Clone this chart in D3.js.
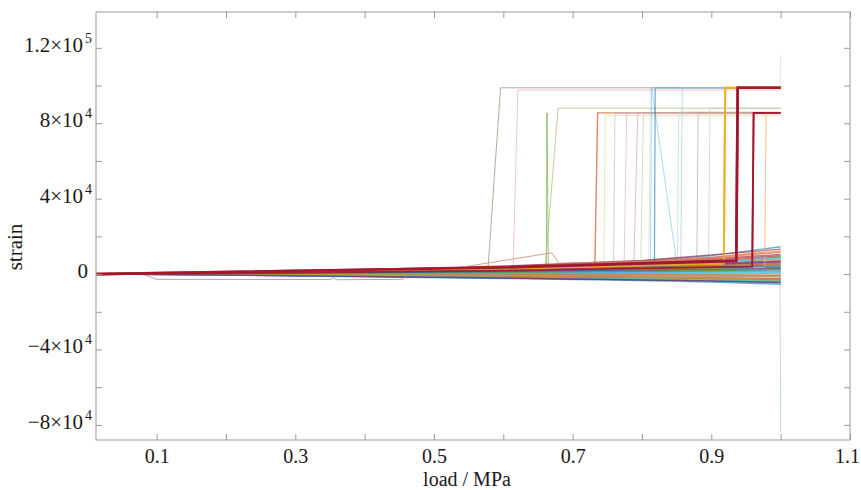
<!DOCTYPE html>
<html>
<head>
<meta charset="utf-8">
<script src="https://cdn.jsdelivr.net/npm/d3@7"></script>
<style>
    body { margin: 0; background: #fff; }
    svg { font-family: "Liberation Serif", "Times New Roman", serif; }
</style>
</head>
<body>
<div id="root"></div>
<script>
"use strict";

// load steps shared by the ordinary (non jumping) runs
var fanLoads = [0.0125, 0.2, 0.4, 0.6, 0.8, 0.9, 1.0];

// strain of each ordinary run at fanLoads
var fanStrains = [
    [0, 200, 700, 1500, 2600, 3300, 4200],
    [0, -150, -500, -900, -1400, -1800, -2300],
    [0, 400, 1100, 2200, 3800, 4900, 6200],
    [0, 80, 300, 600, 1000, 1300, 1600],
    [0, -300, -900, -1600, -2500, -3000, -3600],
    [0, 550, 1500, 3000, 5200, 6800, 8600],
    [0, 250, 600, 1100, 1900, 2500, 3000],
    [0, -60, -200, -350, -600, -700, -900],
    [0, 700, 1900, 3700, 6400, 8600, 11500],
    [0, 150, 450, 900, 1600, 2100, 2700],
    [0, -500, -1300, -2100, -3100, -3700, -4400],
    [0, 320, 900, 1900, 3200, 4200, 5400],
    [0, 30, 120, 250, 450, 600, 750],
    [0, -220, -650, -1200, -1900, -2400, -2900],
    [0, 850, 2100, 4100, 7000, 9800, 14500],
    [0, 480, 1300, 2600, 4500, 5800, 7300],
    [0, -100, -350, -700, -1100, -1400, -1700],
    [0, 180, 520, 1000, 1800, 2300, 2900],
    [0, 380, 1000, 2000, 3500, 4600, 5800],
    [0, -380, -1100, -1900, -2800, -3400, -4100],
    [0, 620, 1700, 3300, 5700, 7500, 9800],
    [0, 120, 380, 800, 1300, 1700, 2200],
    [0, -30, -100, -150, -300, -350, -400],
    [0, 260, 800, 1600, 2900, 3800, 4800],
    [0, 440, 1200, 2400, 4200, 5400, 6900],
    [0, -260, -800, -1400, -2200, -2700, -3300],
    [0, 90, 250, 500, 800, 1100, 1300],
    [0, 750, 1900, 3600, 6000, 8000, 10500],
    [0, -600, -1500, -2400, -3500, -4300, -5400],
    [0, 300, 850, 1700, 3000, 3900, 5000],
    [0, 200, 600, 1300, 2300, 2900, 3700],
    [0, -180, -550, -1000, -1600, -2000, -2500],
    [0, 520, 1400, 2800, 4900, 6300, 8000],
    [0, 60, 200, 400, 700, 900, 1100],
    [0, 950, 2300, 4300, 7200, 10200, 13200],
    [0, -420, -1200, -2000, -3000, -3600, -4700],
    [0, 340, 950, 2100, 3400, 4400, 5600],
    [0, -80, -280, -500, -850, -1100, -1300],
    [0, 470, 1250, 2300, 4000, 5200, 6600],
    [0, 140, 420, 850, 1500, 2000, 2500],
    [0, -340, -1000, -1800, -2600, -3200, -3900],
    [0, 600, 1600, 3200, 5500, 7100, 9200],
    [0, 230, 680, 1300, 2200, 2800, 3500],
    [0, 800, 2000, 3900, 6700, 9000, 12200],
    [0, -200, -600, -1100, -1750, -2200, -2700],
    [0, 420, 1150, 2300, 3900, 5000, 6400],
    [0, 10, 50, 100, 200, 250, 300],
    [0, 560, 1550, 2900, 5000, 6500, 8300],
    [0, -450, -1250, -2050, -3050, -3650, -4300],
    [0, 280, 780, 1550, 2750, 3600, 4500]
];

// runs with their own load steps: [load, strain]
var oddRuns = [
    [[0.0125, 0], [0.08, 0], [0.1, -2800], [0.35, -2900], [0.355, -2100], [0.36, -3000],
     [0.455, -2800], [0.46, -800], [0.6, -500], [0.8, -900], [1.0, -1200]],
    [[0.0125, 0], [0.3, 900], [0.52, 2500], [0.67, 11300], [0.68, 5800], [0.8, 6800], [1.0, 9000]]
];

// runs that jump to a plateau
var jumpRuns = [
    [[0.0125, 0], [0.3, 600], [0.578, 3800], [0.596, 98800], [1.0, 98800]],
    [[0.0125, 0], [0.4, 1200], [0.614, 2600], [0.621, 97600], [1.0, 97600]],
    [[0.0125, 0], [0.4, 800], [0.662, 1500], [0.663, 85500], [0.665, 1800], [1.0, 3500]],
    [[0.0125, 0], [0.4, 900], [0.660, 2200], [0.679, 88000], [1.0, 88000]],
    [[0.0125, 0], [0.5, 1500], [0.732, 3000], [0.736, 85500], [1.0, 85500]],
    [[0.0125, 0], [0.5, 1000], [0.745, 2500], [0.747, 84000], [1.0, 84000]],
    [[0.0125, 0], [0.5, 1300], [0.759, 3000], [0.761, 85500], [1.0, 85500]],
    [[0.0125, 0], [0.5, 700], [0.774, 2000], [0.778, 85500], [1.0, 85500]],
    [[0.0125, 0], [0.5, 1800], [0.788, 3500], [0.794, 85500], [1.0, 85500]],
    [[0.0125, 0], [0.5, 1100], [0.798, 2800], [0.802, 85000], [1.0, 85000]],
    [[0.0125, 0], [0.6, 2400], [0.812, 4500], [0.814, 98800], [0.85, 6000], [1.0, 8000]],
    [[0.0125, 0], [0.6, 3000], [0.818, 6500], [0.819, 98800], [1.0, 98800]],
    [[0.0125, 0], [0.6, 2000], [0.851, 3500], [0.853, 86000], [1.0, 86000]],
    [[0.0125, 0], [0.6, 2600], [0.856, 4000], [0.858, 98800], [1.0, 98800]],
    [[0.0125, 0], [0.6, 1500], [0.879, 3000], [0.881, 85500], [1.0, 85500]],
    [[0.0125, 0], [0.6, 2200], [0.896, 3500], [0.898, 88000], [1.0, 88000]],
    [[0.0125, 0], [0.6, 2500], [0.81, 4000], [0.812, 98800], [0.999, 98800], [1.0, 116000]],
    [[0.0125, 0], [0.6, 1200], [0.95, 2000], [0.999, 2500], [1.0, -83600]],
    [[0.0125, 0], [0.6, 2000], [0.977, 3500], [0.979, 85500], [1.0, 85500]],
    [[0.0125, 0], [0.6, 2800], [0.918, 5500], [0.920, 98800], [1.0, 98800]],
    [[0.0125, 0], [0.6, 1800], [0.959, 4000], [0.961, 85500], [1.0, 85500]],
    [[0.0125, 0], [0.6, 3500], [0.936, 7000], [0.938, 98800], [1.0, 98800]]
];

var xTickValues = [0.1, 0.2, 0.3, 0.4, 0.5, 0.6, 0.7, 0.8, 0.9, 1.0, 1.1];
var xTickLabels = ["0.1", "", "0.3", "", "0.5", "", "0.7", "", "0.9", "", "1.1"];
var yTickValues = [-80000, -60000, -40000, -20000, 0, 20000, 40000, 60000, 80000, 100000, 120000];
var yLabelValues = [-80000, -40000, 0, 40000, 80000, 120000];
var yLabelBases = ["\u22128\u00d710", "\u22124\u00d710", "0", "4\u00d710", "8\u00d710", "1.2\u00d710"];
var yLabelExps = ["4", "4", "", "4", "4", "5"];

// matlab line colours
var palette = ["#0072BD", "#D95319", "#EDB120", "#7E2F8E", "#77AC30", "#4DBEEE", "#A2142F"];
var oddColors = ["#b080b8", "#d08878"];
var jumpColors = ["#9c9c80", "#eaa0a0", "#77AC30", "#a8b878", "#D95319", "#f0d080",
    "#c4a4d8", "#e4a4c4", "#d090b0", "#b0d090", "#4DBEEE", "#0072BD", "#c8c8c8",
    "#80c8e8", "#c09080", "#c0c8b0", "#e8c0c0", "#8cc0dc", "#f4c080", "#EDB120",
    "#A2142F", "#A2142F"];
var jumpWidths = [1, 1, 1, 1, 1.4, 1, 1, 1, 1, 1, 1, 1.2, 1, 1, 1, 1, 1, 1, 1, 2, 1.8, 2.6];
var jumpOpacity = [0.8, 0.6, 0.7, 0.7, 0.7, 0.6, 0.6, 0.6, 0.6, 0.6, 0.5, 0.6, 0.6, 0.6,
    0.6, 0.6, 0.5, 0.6, 0.6, 0.9, 0.9, 0.95];

var width = 861, height = 490;
var frame = { left: 96, right: 850, top: 12, bottom: 440 };

var svg = d3.select("#root").append("svg")
    .attr("width", width)
    .attr("height", height);

svg.append("rect").attr("width", width).attr("height", height).attr("fill", "#fff");

var x = d3.scaleLinear().domain([0.0125, 1.1]).range([frame.left, frame.right]);
var y = d3.scaleLinear().domain([-88000, 139000]).range([frame.bottom, frame.top]);
var color = d3.scaleOrdinal().range(palette);

svg.append("clipPath").attr("id", "plot-clip")
    .append("rect")
    .attr("x", frame.left).attr("y", frame.top)
    .attr("width", frame.right - frame.left)
    .attr("height", frame.bottom - frame.top);

var line = d3.line()
    .x(function (d) { return x(d[0]); })
    .y(function (d) { return y(d[1]); });

var plot = svg.append("g").attr("clip-path", "url(#plot-clip)");

// pale jump runs go underneath, strong ones are re-drawn on top
plot.append("g").classed("jump-layer", true)
    .selectAll("path")
    .data(jumpRuns)
    .enter()
    .append("path")
    .attr("d", line)
    .attr("fill", "none")
    .attr("stroke", function (d, i) { return jumpColors[i]; })
    .attr("stroke-width", function (d, i) { return jumpWidths[i]; })
    .attr("stroke-opacity", function (d, i) { return jumpOpacity[i]; });

plot.append("g").classed("fan-layer", true)
    .selectAll("path")
    .data(fanStrains)
    .enter()
    .append("path")
    .attr("d", function (row) {
        return line(row.map(function (v, k) { return [fanLoads[k], v]; }));
    })
    .attr("fill", "none")
    .attr("stroke", function (d, i) { return color(i); })
    .attr("stroke-width", 1.3)
    .attr("stroke-opacity", 0.6);

plot.append("g").classed("odd-layer", true)
    .selectAll("path")
    .data(oddRuns)
    .enter()
    .append("path")
    .attr("d", line)
    .attr("fill", "none")
    .attr("stroke", function (d, i) { return oddColors[i]; })
    .attr("stroke-width", 1)
    .attr("stroke-opacity", 0.8);

// the four bold runs on top
plot.append("g").classed("bold-layer", true)
    .selectAll("path")
    .data(jumpRuns.slice(18))
    .enter()
    .append("path")
    .attr("d", line)
    .attr("fill", "none")
    .attr("stroke", function (d, i) { return jumpColors[i + 18]; })
    .attr("stroke-width", function (d, i) { return jumpWidths[i + 18]; })
    .attr("stroke-opacity", function (d, i) { return jumpOpacity[i + 18]; });

// axes: ticks point inwards on all four sides
var axisColor = "#9a9a9a";

function styleAxis(g) {
    g.select(".domain").remove();
    g.selectAll(".tick line").attr("stroke", axisColor);
    g.selectAll(".tick text")
        .attr("fill", "#1a1a1a")
        .style("font-size", "20px")
        .style("font-family", "\"Liberation Serif\", serif");
}

svg.append("g")
    .attr("transform", "translate(0," + frame.bottom + ")")
    .call(d3.axisBottom(x).tickValues(xTickValues).tickSizeInner(-6).tickSizeOuter(0)
        .tickPadding(9)
        .tickFormat(function (d, i) { return xTickLabels[i]; }))
    .call(styleAxis)
    .call(function (g) {
        // last label sits on the page edge
        g.selectAll(".tick text").filter(function (d) { return d > 1.05; }).attr("dx", -3);
    });

svg.append("g")
    .attr("transform", "translate(0," + frame.top + ")")
    .call(d3.axisTop(x).tickValues(xTickValues).tickSizeInner(-6).tickSizeOuter(0).tickFormat(""))
    .call(styleAxis);

svg.append("g")
    .attr("transform", "translate(" + frame.left + ",0)")
    .call(d3.axisLeft(y).tickValues(yTickValues).tickSizeInner(-6).tickSizeOuter(0).tickFormat(""))
    .call(styleAxis);

svg.append("g")
    .attr("transform", "translate(" + frame.right + ",0)")
    .call(d3.axisRight(y).tickValues(yTickValues).tickSizeInner(-6).tickSizeOuter(0).tickFormat(""))
    .call(styleAxis);

svg.append("rect")
    .attr("x", frame.left).attr("y", frame.top)
    .attr("width", frame.right - frame.left)
    .attr("height", frame.bottom - frame.top)
    .attr("fill", "none")
    .attr("stroke", axisColor)
    .attr("stroke-width", 1);

// y labels with a raised exponent
var yLabels = svg.append("g").classed("y-labels", true)
    .selectAll("text")
    .data(yLabelValues)
    .enter()
    .append("text")
    .attr("x", function (d, i) { return yLabelExps[i] ? 92 : 88; })
    .attr("y", function (d) { return y(d) + 4; })
    .attr("text-anchor", "end")
    .attr("fill", "#1a1a1a")
    .style("font-size", "21px");

yLabels.append("tspan").text(function (d, i) { return yLabelBases[i]; });
yLabels.filter(function (d, i) { return yLabelExps[i] !== ""; })
    .append("tspan")
    .attr("dx", 2)
    .attr("dy", -9)
    .style("font-size", "14px")
    .text(function (d) { return yLabelExps[yLabelValues.indexOf(d)]; });

svg.append("text")
    .attr("x", 467)
    .attr("y", 485.5)
    .attr("text-anchor", "middle")
    .attr("fill", "#1a1a1a")
    .style("font-size", "20px")
    .text("load / MPa");

svg.append("text")
    .attr("transform", "translate(22,247) rotate(-90)")
    .attr("text-anchor", "middle")
    .attr("fill", "#1a1a1a")
    .style("font-size", "21px")
    .text("strain");
</script>
</body>
</html>
